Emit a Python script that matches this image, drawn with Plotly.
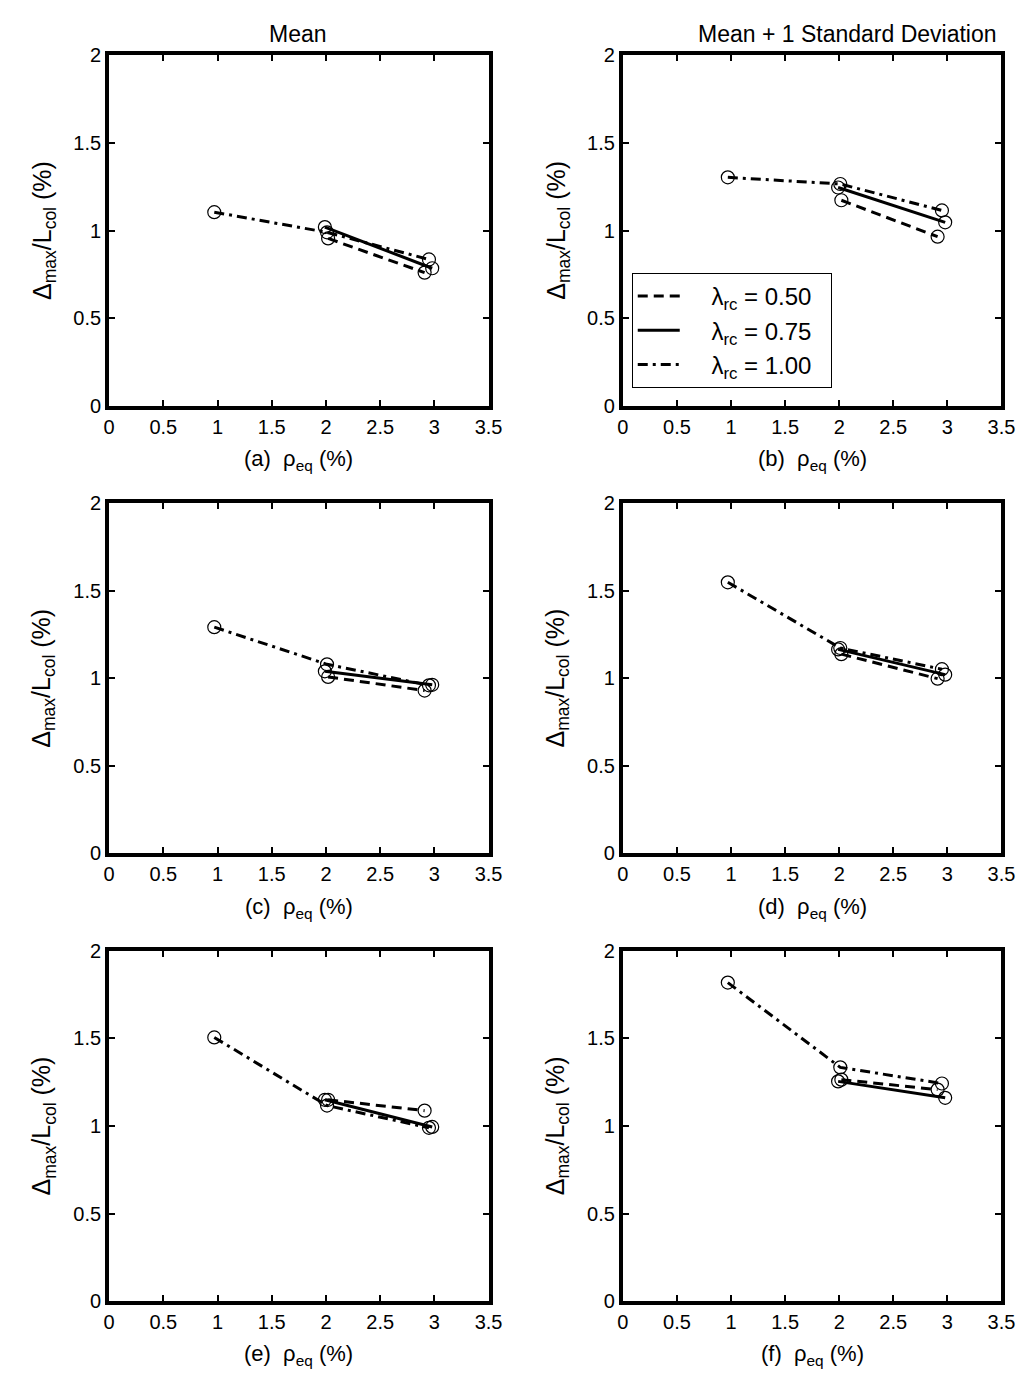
import plotly.graph_objects as go

# ---------------- data ----------------
rho_050 = [2.02, 2.91]
rho_075 = [1.99, 2.98]
rho_100 = [0.97, 2.01, 2.95]

panel_labels = ["(a)", "(b)", "(c)", "(d)", "(e)", "(f)"]
drift_050 = [
    [0.955, 0.76],
    [1.173, 0.965],
    [1.008, 0.93],
    [1.138, 0.998],
    [1.15, 1.088],
    [1.265, 1.208],
]
drift_075 = [
    [1.02, 0.785],
    [1.246, 1.047],
    [1.04, 0.963],
    [1.165, 1.021],
    [1.15, 0.995],
    [1.255, 1.161],
]
drift_100 = [
    [1.105, 0.99, 0.835],
    [1.304, 1.266, 1.115],
    [1.292, 1.08, 0.96],
    [1.548, 1.173, 1.052],
    [1.506, 1.117, 0.99],
    [1.819, 1.335, 1.243],
]
col_titles = ["Mean", "Mean + 1 Standard Deviation"]
legend_names = ["λ<sub>rc</sub> = 0.50", "λ<sub>rc</sub> = 0.75", "λ<sub>rc</sub> = 1.00"]
x_ticks = [0, 0.5, 1, 1.5, 2, 2.5, 3, 3.5]
x_ticktext = ["0", "0.5", "1", "1.5", "2", "2.5", "3", "3.5"]
y_ticks = [0, 0.5, 1, 1.5, 2]
y_ticktext = ["0", "0.5", "1", "1.5", "2"]

# ---------------- layout geometry (pixels) ----------------
W, H = 1028, 1379
col_px = [(97.0, 484.0), (621.0, 1007.0)]
row_px = [(37.0, 393.0), (492.0, 848.0), (947.0, 1303.0)]
title_cx = [290.0, 850.0]
FONT = "Liberation Sans, Arial, sans-serif"

dash_050 = "10px,6px"
dash_100 = "10px,5px,3px,5px"
styles = [
    dict(color="black", width=3, dash=dash_050),
    dict(color="black", width=3, dash="solid"),
    dict(color="black", width=3, dash=dash_100),
]

fig = go.Figure()
layout = dict(
    width=W, height=H,
    margin=dict(l=0, r=0, t=0, b=0),
    paper_bgcolor="white", plot_bgcolor="white",
    font=dict(family=FONT, size=20, color="black"),
    showlegend=True,
)
annotations = []

for i in range(6):
    r, c = divmod(i, 2)
    k = i + 1
    xa = "x" if k == 1 else f"x{k}"
    ya = "y" if k == 1 else f"y{k}"
    xname = "xaxis" if k == 1 else f"xaxis{k}"
    yname = "yaxis" if k == 1 else f"yaxis{k}"
    x0, x1 = col_px[c]
    y0, y1 = row_px[r]
    axis_common = dict(
        showline=True, linecolor="black", linewidth=4, mirror="ticks",
        ticks="inside", ticklen=6, tickwidth=2, tickcolor="black",
        showgrid=False, zeroline=False,
        tickfont=dict(family=FONT, size=20, color="black"),
    )
    layout[xname] = dict(
        domain=[x0 / W, x1 / W], range=[0, 3.5], anchor=ya,
        tickvals=x_ticks, ticktext=x_ticktext, **axis_common,
    )
    layout[yname] = dict(
        domain=[1 - y1 / H, 1 - y0 / H], range=[0, 2], anchor=xa,
        tickvals=y_ticks, ticktext=y_ticktext, **axis_common,
    )
    series = [(rho_050, drift_050[i]), (rho_075, drift_075[i]), (rho_100, drift_100[i])]
    for s, (xs, ys) in enumerate(series):
        fig.add_trace(go.Scatter(
            x=xs, y=ys, xaxis=xa, yaxis=ya, mode="lines+markers",
            line=styles[s],
            marker=dict(symbol="circle-open", size=13, color="black",
                        line=dict(width=1.2, color="black")),
            showlegend=False, hoverinfo="skip",
        ))
    # x-axis title
    annotations.append(dict(
        x=(x0 + x1) / 2 / W, y=1 - (y1 + 55) / H, xref="paper", yref="paper",
        text=f"{panel_labels[i]}  ρ<sub>eq</sub> (%)", showarrow=False,
        font=dict(family=FONT, size=22, color="black"),
        xanchor="center", yanchor="middle",
    ))
    # y-axis title
    annotations.append(dict(
        x=(x0 - 67) / W, y=1 - ((y0 + y1) / 2) / H, xref="paper", yref="paper",
        text="Δ<sub>max</sub>/L<sub>col</sub> (%)", showarrow=False, textangle=-90,
        font=dict(family=FONT, size=25, color="black"),
        xanchor="center", yanchor="middle",
    ))

# legend-only traces (line only) on panel (b)
for s in range(3):
    fig.add_trace(go.Scatter(
        x=[None], y=[None], xaxis="x2", yaxis="y2", mode="lines",
        line=styles[s],
        name="\u00a0\u00a0\u00a0\u00a0" + legend_names[s] + "\u00a0\u00a0",
        showlegend=True,
    ))

# column titles
for c in range(2):
    annotations.append(dict(
        x=title_cx[c] / W, y=1 - 15 / H, xref="paper", yref="paper",
        text=col_titles[c], showarrow=False,
        font=dict(family=FONT, size=23, color="black"),
        xanchor="center", yanchor="middle",
    ))

layout["annotations"] = annotations
layout["legend"] = dict(
    x=630 / W, y=1 - 258 / H, xanchor="left", yanchor="top",
    bgcolor="white", bordercolor="black", borderwidth=1,
    font=dict(family=FONT, size=24, color="black"),
    tracegroupgap=0, itemwidth=42,
)
fig.update_layout(**layout)
fig.write_html("out.html")
